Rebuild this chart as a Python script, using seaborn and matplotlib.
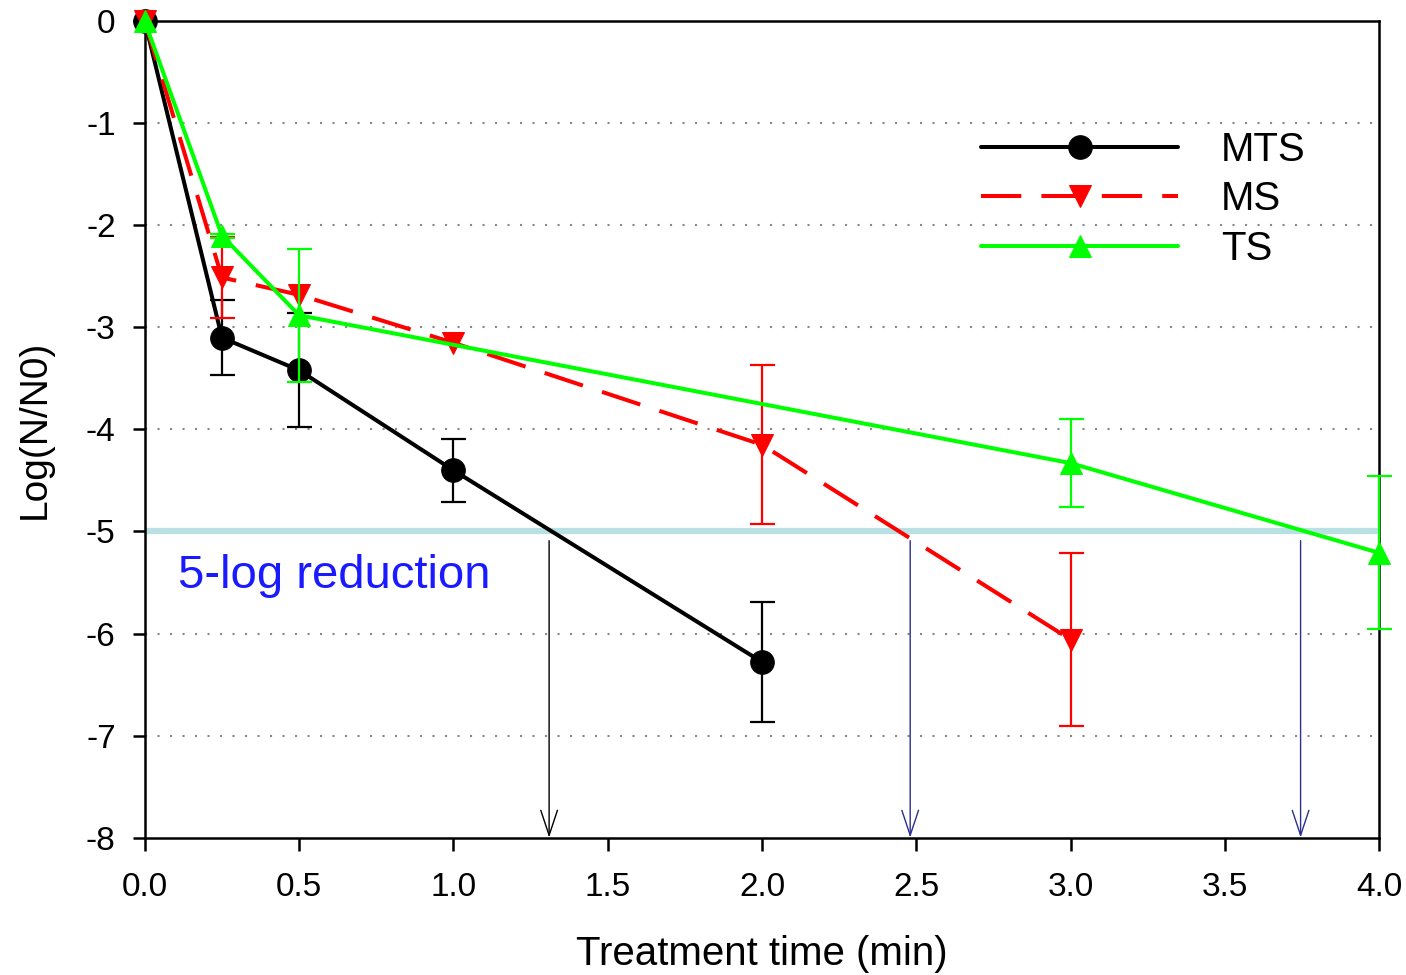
import numpy as np
import pandas as pd
import matplotlib
matplotlib.use("Agg")
import matplotlib.pyplot as plt
import seaborn as sns

# ---- data ----
mts_x = [0.0, 0.25, 0.5, 1.0, 2.0]
mts_y = [0.0, -3.10, -3.42, -4.40, -6.28]
mts_err = [0.0, 0.37, 0.56, 0.31, 0.59]

ms_x = [0.0, 0.25, 0.5, 1.0, 2.0, 3.0]
ms_y = [0.0, -2.51, -2.68, -3.15, -4.15, -6.06]
ms_err = [0.0, 0.40, 0.0, 0.0, 0.78, 0.85]

ts_x = [0.0, 0.25, 0.5, 3.0, 4.0]
ts_y = [0.0, -2.10, -2.88, -4.33, -5.21]
ts_err = [0.0, 0.02, 0.65, 0.43, 0.75]

threshold = -5.0
arrow_x = [1.31, 2.48, 3.745]
arrow_colors = ["black", "#2b2f8f", "#2b2f8f"]

x_ticks = [0.0, 0.5, 1.0, 1.5, 2.0, 2.5, 3.0, 3.5, 4.0]
y_ticks = [0, -1, -2, -3, -4, -5, -6, -7, -8]

sns.set_style("white")
plt.rcParams["font.family"] = ["Liberation Sans", "DejaVu Sans"]
plt.rcParams["axes.unicode_minus"] = False
plt.rcParams["text.color"] = "black"
plt.rcParams["axes.labelcolor"] = "black"
plt.rcParams["xtick.color"] = "black"
plt.rcParams["ytick.color"] = "black"

fig = plt.figure(figsize=(14.06, 9.75), dpi=100)
ax = fig.add_axes([0.103, 0.141, 0.878, 0.837])

# grid
for g in y_ticks[1:-1]:
    ax.axhline(g, color="#888888", linestyle=(0, (1, 5)), linewidth=1.5, zorder=0)

# 5-log line
ax.plot([0, 4], [threshold, threshold], color="#b9e0e3", linewidth=4.5, zorder=1,
        solid_capstyle="butt")

series = [
    ("MTS", mts_x, mts_y, mts_err, "black", "o", 17, "-"),
    ("MS", ms_x, ms_y, ms_err, "#ff0000", "v", 16, (0, (10, 5))),
    ("TS", ts_x, ts_y, ts_err, "#00ff00", "^", 16, "-"),
]

z = 3
for name, xs, ys, es, col, mk, ms, ls in series:
    df = pd.DataFrame({"x": xs, "y": ys})
    sns.lineplot(data=df, x="x", y="y", ax=ax, color=col, marker=mk, markersize=ms,
                 markeredgecolor=col, linewidth=2.9, linestyle=ls, label=name,
                 zorder=z, sort=False, clip_on=False)
    mask = [e > 0 for e in es]
    ax.errorbar(np.array(xs)[mask], np.array(ys)[mask], yerr=np.array(es)[mask],
                fmt="none", ecolor=col, elinewidth=1.6, capsize=9, capthick=1.6,
                zorder=z, clip_on=False)
    z += 1

# arrows
for xa, ca in zip(arrow_x, arrow_colors):
    ax.annotate("", xy=(xa, -8.0), xytext=(xa, -5.09),
                arrowprops=dict(arrowstyle="->,head_length=0.9,head_width=0.3",
                                color=ca, lw=1.0, mutation_scale=20,
                                shrinkA=0, shrinkB=0), zorder=2)

ax.text(0.107, -5.44, "5-log reduction", color="#1a1aff", fontsize=34,
        va="center", ha="left")

ax.set_xlim(0, 4)
ax.set_ylim(-8, 0)
ax.set_xticks(x_ticks)
ax.set_xticklabels([f"{t:.1f}" for t in x_ticks])
ax.set_yticks(y_ticks)
ax.set_yticklabels([str(t) for t in y_ticks])
ax.tick_params(axis="both", direction="out", length=9, width=1.8, labelsize=24,
               bottom=True, left=True, top=False, right=False)
ax.tick_params(axis="x", pad=16)
ax.tick_params(axis="y", pad=12)
ax.set_xlabel("Treatment time (min)", fontsize=29, labelpad=23)
ax.set_ylabel("Log(N/N0)", fontsize=28, labelpad=24)
for s in ax.spines.values():
    s.set_color("black")
    s.set_linewidth(1.8)

leg = ax.legend(loc="upper left", bbox_to_anchor=(0.648, 0.91), frameon=False,
                fontsize=29, handlelength=4.9, handletextpad=1.05, labelspacing=0.28)

fig.savefig("out.png", dpi=100)
